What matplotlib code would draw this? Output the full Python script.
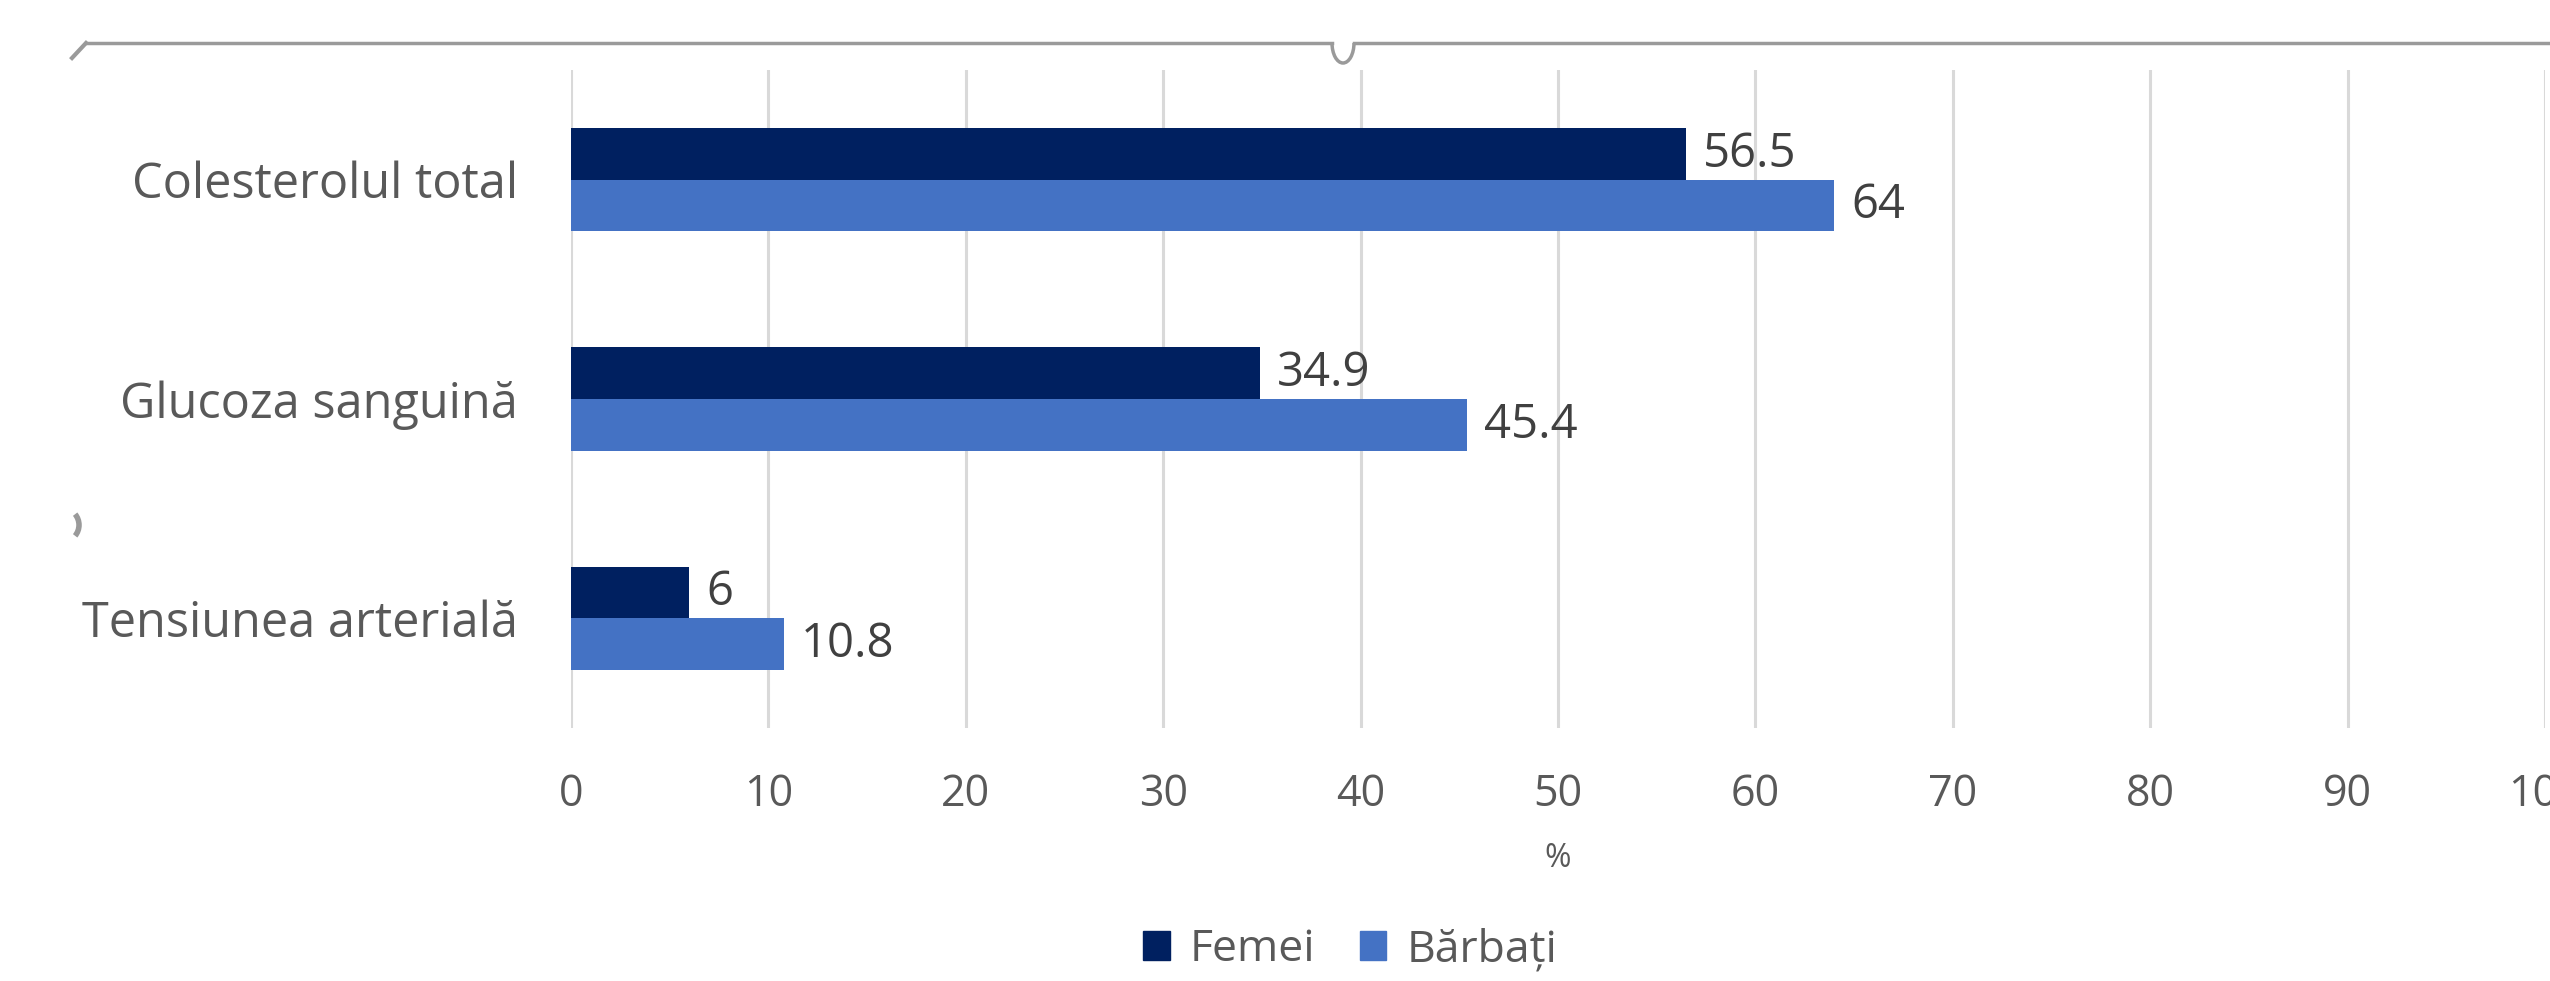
import matplotlib
matplotlib.use("Agg")
import matplotlib.pyplot as plt
from matplotlib.patches import Patch, Arc
from matplotlib.lines import Line2D
import numpy as np

categories = ["Colesterolul total", "Glucoza sanguină", "Tensiunea arterială"]
femei = [56.5, 34.9, 6]
barbati = [64, 45.4, 10.8]
series_names = ["Femei", "Bărbați"]
xticks = [0, 10, 20, 30, 40, 50, 60, 70, 80, 90, 100]

plt.rcParams['font.family'] = ['Open Sans', 'DejaVu Sans']
C_F = "#002060"
C_B = "#4472C4"
TXT = "#595959"

fig = plt.figure(figsize=(25.5, 9.81), dpi=100)
ax = fig.add_axes([571/2550, 1-728/981, (2545-571)/2550, (728-70)/981])

y = np.arange(len(categories))[::-1]
h = 0.235
ax.barh(y + h/2, femei, height=h, color=C_F, label=series_names[0], zorder=3)
ax.barh(y - h/2, barbati, height=h, color=C_B, label=series_names[1], zorder=3)

for yi, v in zip(y, femei):
    ax.text(v + 0.85, yi + h/2, f"{v:g}", va="center", ha="left", fontsize=34, color="#404040")
for yi, v in zip(y, barbati):
    ax.text(v + 0.85, yi - h/2, f"{v:g}", va="center", ha="left", fontsize=34, color="#404040")

ax.set_xlim(0, 100)
ax.set_ylim(-0.5, 2.5)
ax.set_xticks(xticks)
ax.set_xticklabels([str(t) for t in xticks], fontsize=31, color=TXT)
ax.set_yticks(y)
ax.set_yticklabels(categories, fontsize=35, color=TXT)
ax.tick_params(axis='x', length=0, pad=32)
ax.tick_params(axis='y', length=0, pad=38)
ax.xaxis.grid(True, color="#d9d9d9", linewidth=2.2, zorder=0)
ax.yaxis.grid(False)
for s in ax.spines.values():
    s.set_visible(False)
ax.set_xlabel("%", fontsize=23, color=TXT, labelpad=18)

handles = [Patch(facecolor=C_F, edgecolor=C_F), Patch(facecolor=C_B, edgecolor=C_B)]
fig.legend(handles, series_names, loc="center", bbox_to_anchor=(1350/2550, 1-950/981),
           ncol=2, frameon=False, fontsize=32, labelcolor=TXT,
           handlelength=0.6, handleheight=0.6, handletextpad=0.45, columnspacing=1.0)

# Selection frame artifacts (chart-area border with handles)
gray = "#9a9a9a"
ly = 1 - 43/981
fig.add_artist(Line2D([86/2550, 1332/2550], [ly, ly], transform=fig.transFigure, color=gray, lw=2.5))
fig.add_artist(Line2D([1354/2550, 1.0], [ly, ly], transform=fig.transFigure, color=gray, lw=2.5))
fig.add_artist(Arc((1343/2550, 1-43/981), 22/2550, 40/981, theta1=180, theta2=360,
                   transform=fig.transFigure, color=gray, lw=2.5))
fig.add_artist(Line2D([72/2550, 86/2550], [1-58/981, ly], transform=fig.transFigure, color=gray, lw=3))
fig.add_artist(Arc((62/2550, 1-525/981), 34/2550, 34/981, theta1=-65, theta2=65,
                   transform=fig.transFigure, color=gray, lw=4))

fig.savefig("out.png", dpi=100, facecolor="white")
